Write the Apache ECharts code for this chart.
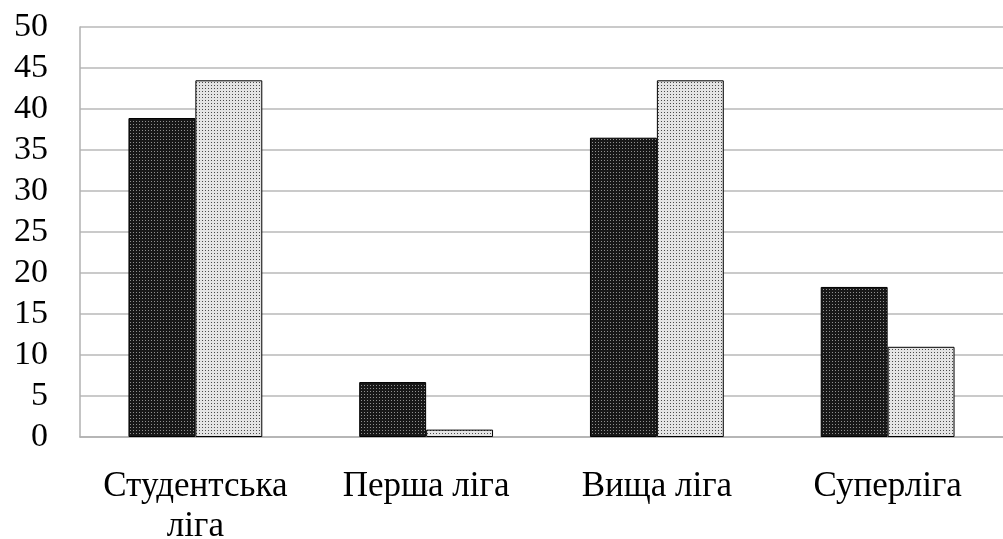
<!DOCTYPE html>
<html>
<head>
<meta charset="utf-8">
<script src="https://cdn.jsdelivr.net/npm/echarts@6/dist/echarts.min.js"></script>
<style>
html, body { margin: 0; padding: 0; background: #fff; }
#chart { width: 1003px; height: 539px; }
</style>
</head>
<body>
<div id="chart"></div>
<script>
const categories = ['Студентська\nліга', 'Перша ліга', 'Вища ліга', 'Суперліга'];
const darkValues = [38.9, 6.7, 36.5, 18.3];
const lightValues = [43.5, 0.9, 43.5, 11.0];

// dotted hatch like the office chart fills
function makePattern(bg, dot) {
    const c = document.createElement('canvas');
    c.width = 3;
    c.height = 3;
    const ctx = c.getContext('2d');
    ctx.fillStyle = bg;
    ctx.fillRect(0, 0, 3, 3);
    ctx.fillStyle = dot;
    ctx.fillRect(1, 1, 1, 1);
    return c;
}

const darkFill = { image: makePattern('#181818', '#909090'), repeat: 'repeat' };
const lightFill = { image: makePattern('#e4e4e4', '#4a4a4a'), repeat: 'repeat' };

const font = '"Liberation Serif", "Times New Roman", serif';
const chart = echarts.init(document.getElementById('chart'));
chart.setOption({
    animation: false,
    grid: { left: 80, right: 0, top: 27, bottom: 102, outerBoundsMode: 'none', containLabel: false },
    xAxis: {
        type: 'category',
        data: categories,
        axisLine: { lineStyle: { color: '#b0b0b0', width: 1.5 } },
        axisTick: { show: false },
        axisLabel: {
            interval: 0,
            margin: 30,
            fontFamily: font,
            fontSize: 35,
            lineHeight: 40,
            color: '#000'
        }
    },
    yAxis: {
        type: 'value',
        min: 0,
        max: 50,
        interval: 5,
        axisLine: { show: true, lineStyle: { color: '#b0b0b0', width: 1.5 } },
        axisTick: { show: false },
        splitLine: { lineStyle: { color: '#b8b8b8', width: 1.5 } },
        axisLabel: {
            margin: 32,
            fontFamily: font,
            fontSize: 34,
            color: '#000'
        }
    },
    series: [{
        type: 'bar',
        data: darkValues,
        barGap: '0%',
        barCategoryGap: '42%',
        itemStyle: { color: darkFill, borderColor: '#000', borderWidth: 1 }
    }, {
        type: 'bar',
        data: lightValues,
        itemStyle: { color: lightFill, borderColor: '#000', borderWidth: 1 }
    }]
});
</script>
</body>
</html>
